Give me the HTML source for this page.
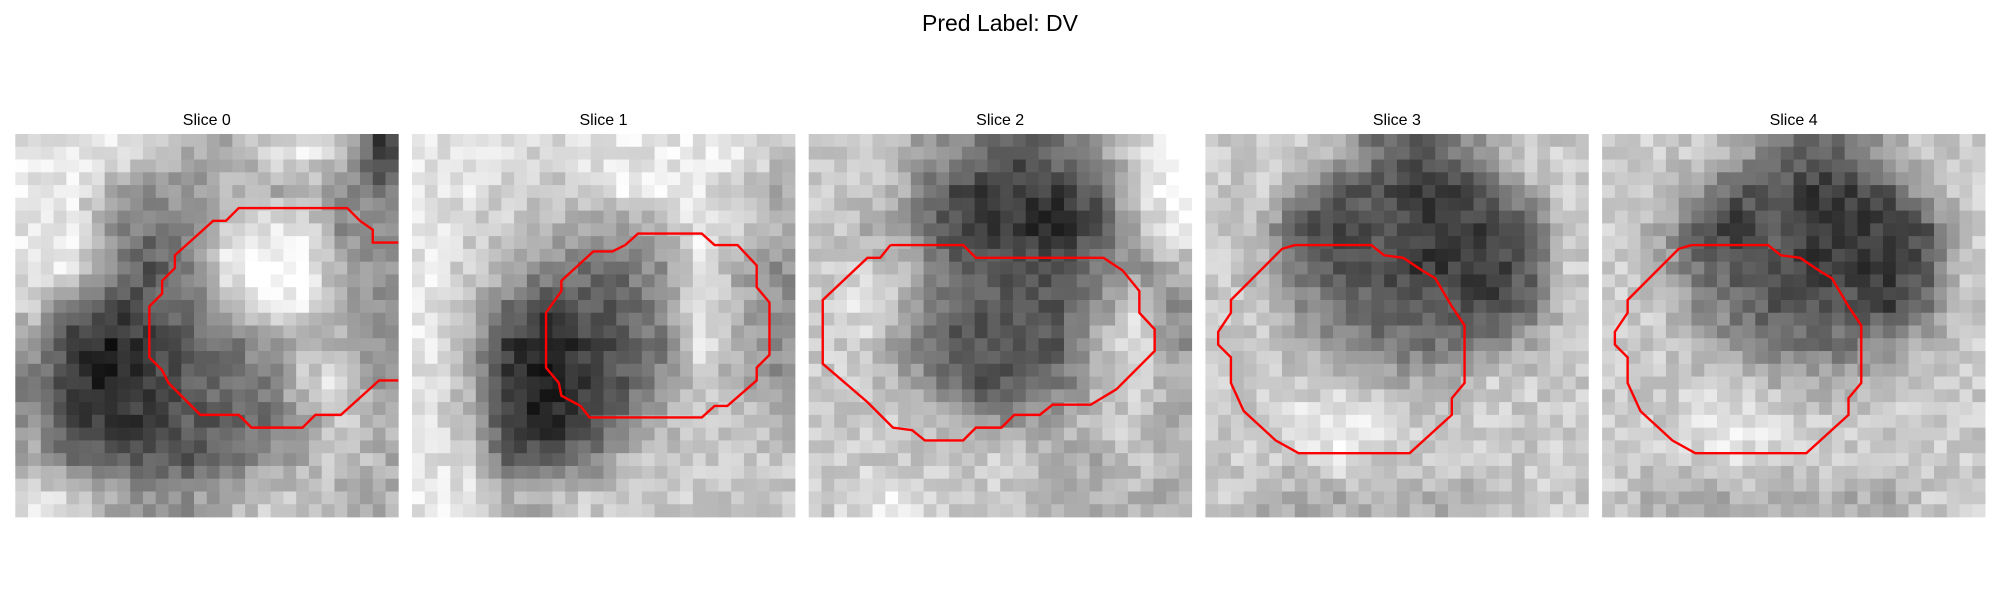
<!DOCTYPE html>
<html><head><meta charset="utf-8"><style>
html,body{margin:0;padding:0;background:#fff;}
svg{display:block;font-family:"Liberation Sans","DejaVu Sans",sans-serif;}
</style></head><body>
<svg id="fig" width="2000" height="600" viewBox="0 0 2000 600" xmlns="http://www.w3.org/2000/svg">
<rect width="2000" height="600" fill="#fff"/>
<text x="1000" y="31" font-size="23" text-anchor="middle">Pred Label: DV</text>
</svg>
<script>
const sliceTitles = ["Slice 0","Slice 1","Slice 2","Slice 3","Slice 4"];
const grid0 = [
[8,8,8,7,6,6,7,8,7,2],[8,8,6,5,5,6,6,6,5,4],[8,8,5,4,5,7,8,8,5,5],[8,8,5,3,4,8,9,9,6,5],
[7,4,2,3,4,6,8,8,6,5],[5,2,1,2,3,4,5,6,6,5],[4,2,1,2,3,4,4,7,8,5],[5,2,2,2,3,3,4,5,7,6],
[6,4,3,3,3,4,5,6,7,6],[8,7,6,5,5,6,7,7,6,6]];
const grid1 = [
[8,8,8,7,8,8,8,8,8,7],[8,8,7,7,7,8,8,8,7,6],[8,7,7,6,6,5,6,8,7,6],[8,7,6,5,4,4,5,8,6,5],
[8,7,4,2,3,3,5,8,6,5],[8,6,2,1,2,3,4,8,6,5],[8,6,2,1,2,3,5,7,6,5],[8,6,2,1,2,4,6,7,7,6],
[8,7,3,3,4,6,7,7,7,7],[8,8,6,6,7,7,7,7,7,7]];
const grid2 = [
[7,7,6,5,4,3,4,5,7,9],[7,7,6,3,2,2,2,3,7,9],[7,6,5,3,2,2,1,3,6,8],[7,7,7,4,3,3,3,4,5,6],
[7,8,6,4,3,3,3,5,7,5],[7,7,5,3,3,3,3,6,8,5],[7,7,6,4,3,3,4,6,7,6],[7,7,7,6,5,5,6,7,7,6],
[7,7,7,7,7,7,6,6,7,6],[7,8,8,7,7,7,6,6,6,6]];
const grid3 = [
[7,7,7,6,4,3,4,6,7,7],[7,7,5,3,3,2,2,3,6,7],[7,6,3,2,3,2,2,2,3,7],[7,6,4,3,3,2,2,2,3,7],
[7,7,5,4,3,3,3,2,4,7],[7,7,6,5,4,4,4,5,6,7],[7,7,7,7,6,6,6,7,7,7],[7,7,8,8,8,7,7,7,7,7],
[7,7,7,8,7,7,7,7,7,7],[7,6,6,6,6,6,6,6,7,7]];
const grid4 = grid3;
const contour0 = [[30,8.5],[28,8.5],[28,7.5],[27,6.8],[26,5.8],[17.5,5.8],[16.5,6.8],[15.5,6.8],[12.5,9.5],[12.5,10.5],[11.5,11.5],[11.5,12.5],[10.5,13.5],[10.5,17.5],[11.5,18.5],[12,19.5],[14.5,22],[17.5,22],[18.5,23],[22.5,23],[23.5,22],[25.5,22],[28.5,19.3],[30,19.3]];
const contour1 = [[16.7,8.7],[17.7,7.8],[22.7,7.8],[23.7,8.7],[25.5,8.7],[27,10.3],[27,12],[28,13.2],[28,17.3],[27,18.3],[27,19.3],[24.7,21.3],[23.7,21.3],[22.7,22.2],[13.9,22.2],[13.2,21.3],[11.7,20.5],[11.5,19.5],[10.5,18.3],[10.5,14],[11.7,12.3],[11.7,11.5],[14.2,9.2],[15.7,9.2],[16.7,8.7]];
const contour2 = [[6.4,8.7],[12.1,8.7],[13.1,9.7],[23.1,9.7],[24.6,10.7],[25.9,12.3],[25.9,14],[27.1,15.3],[27.1,17],[24.1,20],[22.1,21.2],[19.1,21.2],[18.1,22],[16.1,22],[15.1,23],[13.1,23],[12.1,24],[9.1,24],[8.1,23.2],[6.6,23],[5.6,22],[4.6,21],[1.1,18],[1.1,13],[4.6,9.7],[5.6,9.7],[6.4,8.7]];
const contour3 = [[7,8.7],[13,8.7],[14,9.5],[15.5,9.7],[17,10.7],[18,11.3],[19.3,13.5],[20.3,15],[20.3,19.5],[19.3,20.7],[19.3,22],[16,25],[7.3,25],[5.5,24],[3,21.7],[2,19.5],[2,17.5],[1,16.5],[1,15.5],[2,14],[2,13],[6,9],[7,8.7]];
const contour4 = contour3;
const grids=[grid0,grid1,grid2,grid3,grid4];
const contours=[contour0,contour1,contour2,contour3,contour4];
const NS="http://www.w3.org/2000/svg";
const svg=document.getElementById('fig');
const px0=15.3, step=396.7, py0=134, size=383, unit=size/30;
function sample(g,x,y){
  let gx=(x+0.5)/3-0.5, gy=(y+0.5)/3-0.5;
  gx=Math.max(0,Math.min(9,gx)); gy=Math.max(0,Math.min(9,gy));
  const x0=Math.floor(gx), y0=Math.floor(gy), x1=Math.min(9,x0+1), y1=Math.min(9,y0+1);
  const fx=gx-x0, fy=gy-y0;
  return (g[y0][x0]*(1-fx)+g[y0][x1]*fx)*(1-fy)+(g[y1][x0]*(1-fx)+g[y1][x1]*fx)*fy;
}
function tex(i,j,k){let h=(i*73856093)^(j*19349663)^(k*83492791);h=(h^(h>>>13))*1274126177;h=h^(h>>>16);return ((h>>>0)%1000)/1000-0.5;}
for(let k=0;k<5;k++){
  const ox=px0+k*step;
  const g=document.createElementNS(NS,'g');
  
  
  g.setAttribute('transform','translate('+ox+','+py0+') scale('+unit+')');
  for(let r=0;r<30;r++)for(let c=0;c<30;c++){
    let v=sample(grids[k],c,r)+tex(c,r,k)*1.6;
    let gr=Math.round(Math.max(0,Math.min(255,3+v*28.5)));
    const rc=document.createElementNS(NS,'rect');
    rc.setAttribute('x',c);rc.setAttribute('y',r);rc.setAttribute('width',1.03);rc.setAttribute('height',1.03);
    rc.setAttribute('fill','rgb('+gr+','+gr+','+gr+')');
    g.appendChild(rc);
  }
  const pl=document.createElementNS(NS,'polyline');
  
  
  pl.setAttribute('points',contours[k].map(p=>p[0]+','+p[1]).join(' '));
  pl.setAttribute('fill','none');pl.setAttribute('stroke','#ff0000');pl.setAttribute('stroke-width',2.4/unit);
  g.appendChild(pl);
  svg.appendChild(g);
  const t=document.createElementNS(NS,'text');
  
  
  t.setAttribute('x',ox+size/2);t.setAttribute('y',125);t.setAttribute('font-size','16');t.setAttribute('text-anchor','middle');
  t.textContent=sliceTitles[k];
  svg.appendChild(t);
}
</script>
</body></html>
